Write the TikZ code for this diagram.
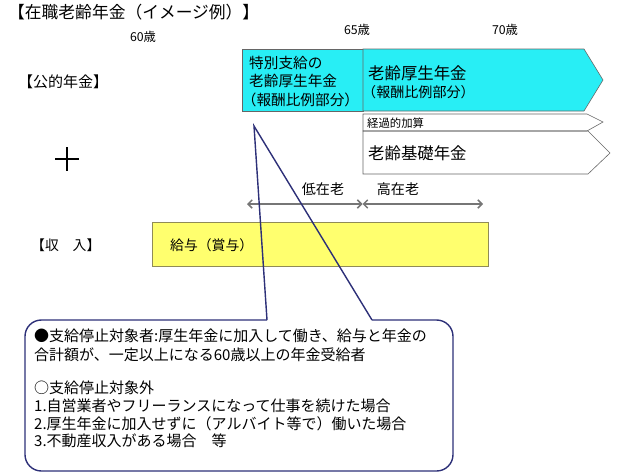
\documentclass[tikz,border=0pt]{standalone}
\usepackage{fontspec}
\setmainfont{Noto Sans CJK JP}
\usetikzlibrary{arrows.meta}

\definecolor{pensioncyan}{RGB}{40,238,245}
\definecolor{wageyellow}{RGB}{255,255,110}
\definecolor{calloutblue}{RGB}{45,48,120}
\definecolor{spangray}{RGB}{118,118,118}

\begin{document}
\begin{tikzpicture}[x=0.03cm,y=-0.03cm,
    lbl/.style={inner sep=0pt, anchor=west},
    box/.style={draw=gray!80!black, line width=0.5pt},
    span/.style={draw=spangray, line width=1.3pt,
        {Straight Barb[length=3.5pt,width=7pt]}-{Straight Barb[length=3.5pt,width=7pt]}},
    callout/.style={draw=calloutblue, line width=1.2pt}]
    \useasboundingbox (0,0) rectangle (640,474);

    % title and age marks
    \node[lbl, font=\fontsize{14.3}{16}\selectfont] (title) at (8,12) {【在職老齢年金（イメージ例）】};

    \foreach \x/\y/\age in {143/37/60,357/30/65,505/30/70}
    \node[font=\fontsize{10.5}{12}\selectfont] (age\age) at (\x,\y) {\age 歳};

    % public pension
    \node[lbl, font=\fontsize{12.8}{15}\selectfont] (public) at (18,82) {【公的年金】};

    \filldraw[box, fill=pensioncyan] (242,49) rectangle (363,111);
    \filldraw[box, fill=pensioncyan] (363,49) -- (584,49) -- (603,80) -- (584,111) -- (363,111) -- cycle;
    \draw[box] (363,114) -- (587,114) -- (603,122) -- (587,131) -- (363,131) -- cycle;
    \draw[box] (363,131) -- (588,131) -- (610,153) -- (588,174) -- (363,174) -- cycle;

    \node[lbl, align=left, font=\fontsize{12.5}{15.8}\selectfont] (special) at (249,81.5)
        {特別支給の\\老齢厚生年金\\\hspace*{-0.5em}（報酬比例部分）};
    \node[lbl, font=\fontsize{14}{16}\selectfont] (employee) at (368,73) {老齢厚生年金};
    \node[lbl, font=\fontsize{12}{14}\selectfont] (employeeNote) at (362,92) {（報酬比例部分）};
    \node[lbl, font=\fontsize{9.7}{11}\selectfont] (transit) at (367,123) {経過的加算};
    \node[lbl, font=\fontsize{14}{16}\selectfont] (basic) at (368,153) {老齢基礎年金};

    \draw[line width=1.3pt] (55,159) -- (79,159) (67,147) -- (67,171);

    % age spans
    \coordinate (lowStart) at (247,204);
    \coordinate (split) at (362.5,204);
    \coordinate (highEnd) at (483,204);
    \draw[span] (lowStart) -- (split);
    \draw[span] (split) -- (highEnd);
    \node[font=\fontsize{12}{14}\selectfont] (low) at (323,189) {低在老};
    \node[font=\fontsize{12}{14}\selectfont] (high) at (398,189) {高在老};

    % income
    \node[lbl, font=\fontsize{11.8}{14}\selectfont] (income) at (31,245) {【収\quad 入】};
    \filldraw[draw=gray!60!olive, line width=0.5pt, fill=wageyellow] (152,222) rectangle (488,266);
    \node[lbl, font=\fontsize{11.8}{14}\selectfont] (wage) at (170,245) {給与（賞与）};

    % callout
    \coordinate (tip) at (254,126);
    \coordinate (legL) at (267,320);
    \coordinate (legR) at (372,320);
    \draw[callout, rounded corners=14] (legL) -- (25,320) -- (25,471) -- (453,471) -- (453,320) -- (legR);
    \draw[callout, line join=miter] (legL) -- (tip) -- (legR);

    \node[lbl, align=left, font=\fontsize{12.8}{16}\selectfont] (stop) at (34,345.5)
        {●支給停止対象者:厚生年金に加入して働き、給与と年金の\\合計額が、一定以上になる60歳以上の年金受給者};
    \node[lbl, align=left, font=\fontsize{12.8}{15.2}\selectfont] (exempt) at (34,414.5)
        {○支給停止対象外\\1.自営業者やフリーランスになって仕事を続けた場合\\2.厚生年金に加入せずに（アルバイト等で）働いた場合\\3.不動産収入がある場合　等};

\end{tikzpicture}
\end{document}
